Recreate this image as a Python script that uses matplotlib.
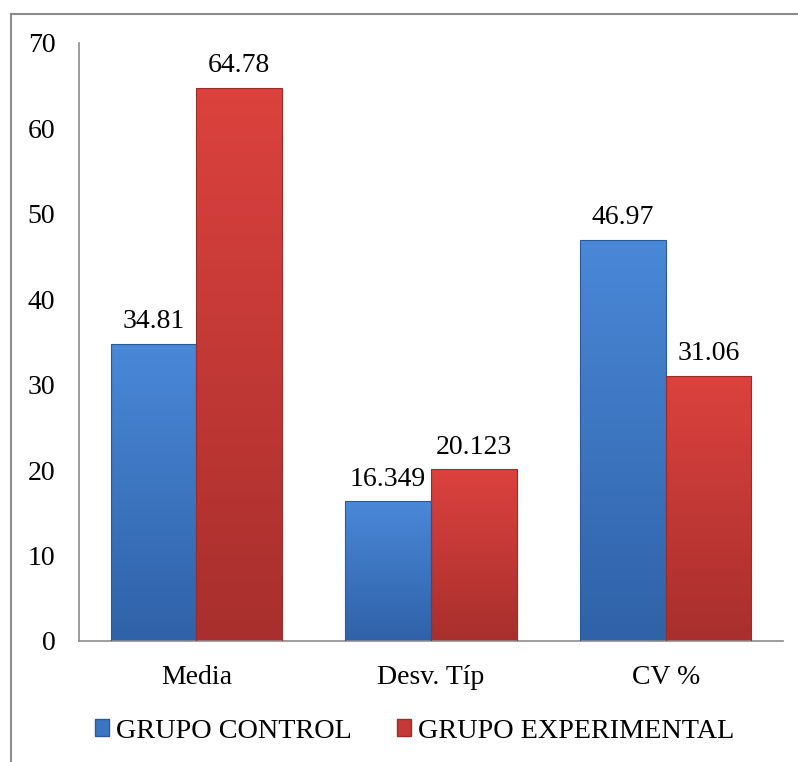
import numpy as np
import matplotlib.pyplot as plt
from matplotlib.lines import Line2D
from matplotlib.patches import Patch

# data
categorias = ["Media", "Desv. Típ", "CV %"]
control = [34.81, 16.349, 46.97]
experimental = [64.78, 20.123, 31.06]
etiquetas_control = ["34.81", "16.349", "46.97"]
etiquetas_experimental = ["64.78", "20.123", "31.06"]

plt.rcParams["font.family"] = ["Liberation Serif", "DejaVu Serif"]

fig = plt.figure(figsize=(7.98, 7.62), dpi=100)
W, H = 798, 762
ax = fig.add_axes([79 / W, 1 - 641 / H, (783 - 79) / W, (641 - 43) / H])

x = np.arange(len(categorias))
ancho = 0.365


def barras_degradado(xs, vals, top, bottom, edge):
    bars = ax.bar(xs, vals, ancho, color="none", edgecolor=edge, linewidth=0.8, zorder=3)
    grad = np.linspace(0, 1, 256).reshape(-1, 1)
    c0 = np.array(plt.matplotlib.colors.to_rgb(top))
    c1 = np.array(plt.matplotlib.colors.to_rgb(bottom))
    img = c0 + (c1 - c0) * grad[..., None]
    img = img.reshape(256, 1, 3)
    for b in bars:
        x0, y0 = b.get_x(), b.get_y()
        w, h = b.get_width(), b.get_height()
        im = ax.imshow(img, extent=(x0, x0 + w, y0, y0 + h), origin="upper",
                       aspect="auto", zorder=2)
        im.set_clip_path(b)
    return bars


barras_degradado(x - ancho / 2, control, "#4a88d8", "#2f62a8", "#2a5a9a")
barras_degradado(x + ancho / 2, experimental, "#dc423e", "#a82f2d", "#9a2c2a")

fs = 20
for i in range(len(categorias)):
    ax.text(x[i] - ancho / 2, control[i] + 1.1, etiquetas_control[i],
            ha="center", va="bottom", fontsize=fs)
    ax.text(x[i] + ancho / 2, experimental[i] + 1.1, etiquetas_experimental[i],
            ha="center", va="bottom", fontsize=fs)

ax.set_xlim(-0.5, 2.5)
ax.set_ylim(0, 70)
ax.set_yticks(range(0, 71, 10))
ax.set_xticks(x)
ax.set_xticklabels(categorias)
ax.tick_params(axis="both", length=0, labelsize=fs)
ax.tick_params(axis="y", pad=17)
ax.tick_params(axis="x", pad=17)
for s in ["top", "right"]:
    ax.spines[s].set_visible(False)
for s in ["left", "bottom"]:
    ax.spines[s].set_color("#8c8c8c")
    ax.spines[s].set_linewidth(1.2)

handles = [Patch(facecolor="#3c74c4", edgecolor="#2a5a9a"),
           Patch(facecolor="#c43a37", edgecolor="#9a2c2a")]
fig.legend(handles, ["GRUPO CONTROL", "GRUPO EXPERIMENTAL"], loc="center",
           bbox_to_anchor=(415 / W, 1 - 731 / H), ncol=2, frameon=False,
           fontsize=20.3, handlelength=0.5, handleheight=0.5, handletextpad=0.25,
           columnspacing=1.6)

# marco del grafico
fig.add_artist(Line2D([11 / W, 11 / W], [0, 1 - 14 / H], color="#8c8c8c", lw=1.5,
                      transform=fig.transFigure))
fig.add_artist(Line2D([11 / W, 1], [1 - 14 / H, 1 - 14 / H], color="#8c8c8c", lw=1.5,
                      transform=fig.transFigure))

fig.savefig("out.png", dpi=100)
